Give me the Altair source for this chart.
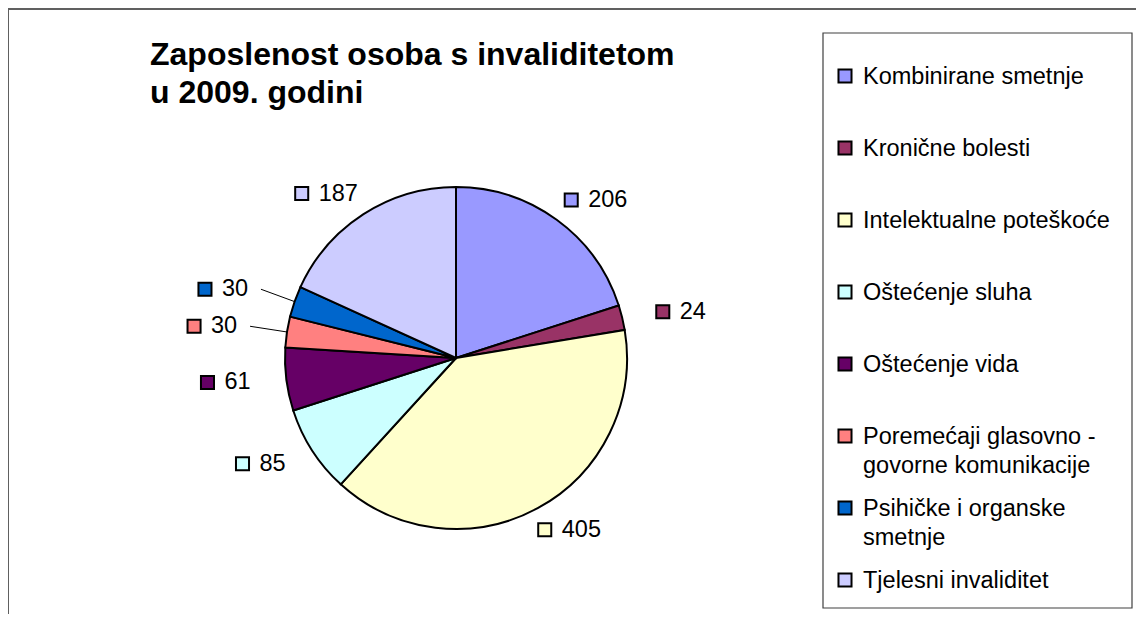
import altair as alt
import pandas as pd

# ---- data ----
CATEGORIES = [
    "Kombinirane smetnje",
    "Kronične bolesti",
    "Intelektualne poteškoće",
    "Oštećenje sluha",
    "Oštećenje vida",
    "Poremećaji glasovno - govorne komunikacije",
    "Psihičke i organske smetnje",
    "Tjelesni invaliditet",
]
VALUES = [206, 24, 405, 85, 61, 30, 30, 187]
LEGEND_LABELS = [
    "Kombinirane smetnje",
    "Kronične bolesti",
    "Intelektualne poteškoće",
    "Oštećenje sluha",
    "Oštećenje vida",
    "Poremećaji glasovno -\ngovorne komunikacije",
    "Psihičke i organske\nsmetnje",
    "Tjelesni invaliditet",
]
TITLE = "Zaposlenost osoba s invaliditetom\nu 2009. godini"

# ---- styles ----
COLORS = ["#9999FF", "#993366", "#FFFFCC", "#CCFFFF", "#660066", "#FF8080", "#0066CC", "#CCCCFF"]
FONT = "Liberation Sans"
W, H = 1128, 606
CX, CY, R = 448, 350, 171
RX, RY = 181, 161
FS = 23.5

df = pd.DataFrame({
    "idx": list(range(len(CATEGORIES))),
    "category": CATEGORIES,
    "value": VALUES,
    "legend": LEGEND_LABELS,
})

color = alt.Color("category:N", scale=alt.Scale(domain=CATEGORIES, range=COLORS), legend=None)
one = pd.DataFrame({"t": [TITLE]})

# outer frame
frame_top = alt.Chart(one).mark_rule(color="#606060", strokeWidth=2).encode(
    x=alt.value(0), x2=alt.value(W), y=alt.value(1))
frame_left = alt.Chart(one).mark_rule(color="#606060", strokeWidth=2).encode(
    x=alt.value(0), y=alt.value(1), y2=alt.value(H))

# pie
pie = alt.Chart(df).mark_arc(radius=R, stroke="black", strokeWidth=2).encode(
    theta=alt.Theta("value:Q", stack=True),
    order=alt.Order("idx:Q"),
    color=color,
    x=alt.value(CX), y=alt.value(CY),
)

# data labels (small slices on the left side are pushed out, with leader lines)
MOVED = "datum.value <= 30 && datum.mid > PI"
lab = (
    alt.Chart(df)
    .transform_window(cum="sum(value)", sort=[alt.SortField("idx")], frame=[None, 0])
    .transform_joinaggregate(total="sum(value)")
    .transform_calculate(mid="2*PI*(datum.cum - datum.value/2)/datum.total")
    .transform_calculate(k=f"({MOVED}) ? 1.22 : 1.14")
    .transform_calculate(n="length(toString(datum.value))")
    .transform_calculate(w="24 + 13.5*datum.n")
    .transform_calculate(lx=f"{CX} + ({RX}*datum.k + datum.w/2)*sin(datum.mid)")
    .transform_calculate(ly=f"{CY} - ({RY}*datum.k + 12)*cos(datum.mid)")
    .transform_calculate(sqx="datum.lx - (10 + 13.5*datum.n)/2")
    .transform_calculate(tx="datum.sqx + 17")
    .transform_calculate(rx1="datum.lx + datum.w/2 + 12")
    .transform_calculate(ex=f"{CX} + {R}*sin(datum.mid)")
    .transform_calculate(ey=f"{CY} - {R}*cos(datum.mid)")
)

leaders = lab.transform_filter(MOVED).mark_rule(color="black", strokeWidth=1).encode(
    x=alt.X("rx1:Q", scale=None, axis=None),
    y=alt.Y("ly:Q", scale=None, axis=None),
    x2="ex:Q", y2="ey:Q",
)
lab_sq = lab.mark_square(size=170, stroke="black", strokeWidth=2, opacity=1).encode(
    x=alt.X("sqx:Q", scale=None, axis=None),
    y=alt.Y("ly:Q", scale=None, axis=None),
    color=color,
)
lab_txt = lab.mark_text(align="left", baseline="middle", fontSize=FS, font=FONT, color="black").encode(
    x=alt.X("tx:Q", scale=None, axis=None),
    y=alt.Y("ly:Q", scale=None, axis=None),
    text=alt.Text("value:Q", format="d"),
)

# legend
leg_box = alt.Chart(one).mark_rect(fill="white", stroke="#404040", strokeWidth=1.2).encode(
    x=alt.value(815), x2=alt.value(1124), y=alt.value(25), y2=alt.value(600))
leg = alt.Chart(df).transform_calculate(ly="68 + 72*datum.idx")
leg_sq = leg.mark_square(size=170, stroke="black", strokeWidth=2, opacity=1).encode(
    x=alt.value(837), y=alt.Y("ly:Q", scale=None, axis=None), color=color)
leg_txt = leg.mark_text(align="left", baseline="alphabetic", dy=7.5, fontSize=FS, font=FONT,
                        lineBreak="\n", lineHeight=29, color="black").encode(
    x=alt.value(855), y=alt.Y("ly:Q", scale=None, axis=None), text="legend:N")

# title
title = alt.Chart(one).mark_text(align="left", baseline="alphabetic", fontSize=32, fontWeight="bold",
                                 font=FONT, lineBreak="\n", lineHeight=38, color="black").encode(
    x=alt.value(142), y=alt.value(57), text="t:N")

chart = alt.layer(
    frame_top, frame_left, leg_box, pie, leaders, lab_sq, lab_txt, leg_sq, leg_txt, title
).properties(
    width=W, height=H, autosize=alt.AutoSizeParams(type="none"), padding=0, background="white"
).configure_view(stroke=None)

chart.save("out.html", embed_options={"renderer": "svg", "actions": False})
